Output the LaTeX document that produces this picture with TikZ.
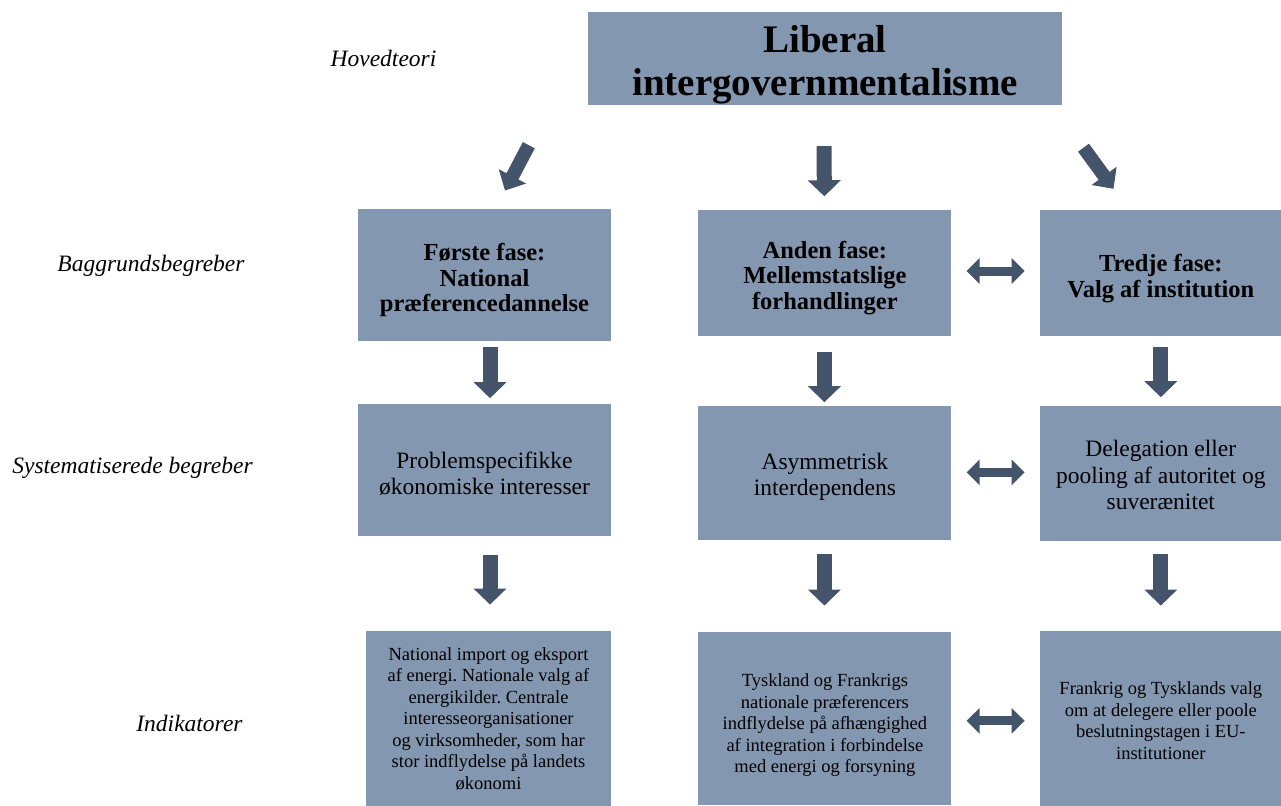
\documentclass[tikz,border=0pt]{standalone}
\usepackage{fontspec}
\setmainfont{Liberation Serif}
\usepackage{tikz}
\usetikzlibrary{positioning, arrows.meta}
\definecolor{boxblue}{HTML}{8497B0}
\definecolor{arrowblue}{HTML}{44546A}
\frenchspacing

\begin{document}
\begin{tikzpicture}[x=1pt, y=-1pt, node distance=87pt,
  box node/.style={rectangle, fill=boxblue, inner sep=0pt, align=center, text=black, text depth=0pt},
  head node/.style={box node, minimum width=253pt, font=\fontsize{24.5}{25.5}\selectfont\bfseries},
  plain node/.style={box node, minimum width=253pt, font=\fontsize{23.5}{26.5}\selectfont},
  small node/.style={box node, minimum width=253pt, font=\fontsize{18.5}{21.5}\selectfont},
  level label/.style={font=\fontsize{23.5}{26}\selectfont\itshape},
  down arrow/.style={draw=arrowblue, line width=15pt, -{Triangle[width=32pt,length=16pt]}},
  slant arrow/.style={draw=arrowblue, line width=13.5pt, -{Triangle[width=30pt,length=16pt]}},
  both arrow/.style={draw=arrowblue, line width=9pt, {Triangle[width=25pt,length=13pt]}-{Triangle[width=25pt,length=13pt]}}]

\useasboundingbox (0,0) rectangle (1281,805);

% levels on the left
\node[level label] (lvl0) at (383.5,58) {Hovedteori};
\node[level label] (lvl1) at (151,266) {Baggrundsbegreber};
\node[level label] (lvl2) at (132.5,468) {Systematiserede begreber};
\node[level label] (lvl3) at (189.5,723) {Indikatorer};

% main theory
\node[box node, minimum width=474pt, minimum height=93pt, text height=73.6pt,
  font=\fontsize{39}{43}\selectfont\bfseries] (top) at (825,58.5) {Liberal\\intergovernmentalisme};

% phases
\node[head node, minimum height=132pt, text height=73pt] (a1) at (484.5,275) {Første fase:\\National\\præferencedannelse};
\node[head node, minimum height=126pt, text height=72.7pt] (b1) [right=87pt of a1, yshift=2pt] {Anden fase:\\Mellemstatslige\\forhandlinger};
\node[head node, minimum height=126pt, minimum width=242pt, text height=48.2pt] (c1) [right=88pt of b1] {Tredje fase:\\Valg af institution};

% systematised concepts
\node[plain node, minimum height=132pt, text height=48.5pt] (a2) [below=63pt of a1] {Problemspecifikke\\økonomiske interesser};
\node[plain node, minimum height=134pt, text height=44.5pt] (b2) [right=87pt of a2, yshift=-3pt] {Asymmetrisk\\interdependens};
\node[plain node, minimum height=135pt, minimum width=242pt, text height=73pt] (c2) [right=88pt of b2] {Delegation eller\\pooling af autoritet og\\suverænitet};

% indicators
\node[small node, minimum height=175pt, minimum width=245pt] (a3) [below=94pt of a2, xshift=4pt]
  {National import og eksport\\af energi. Nationale valg af\\energikilder. Centrale\\interesseorganisationer\\og virksomheder, som har\\stor indflydelse på landets\\økonomi};
\node[small node, minimum height=173pt, text height=108.6pt] (b3) [right=87pt of a3]
  {Tyskland og Frankrigs\\nationale præferencers\\indflydelse på afhængighed\\af integration i forbindelse\\med energi og forsyning};
\node[small node, minimum height=175pt, minimum width=242pt, text height=82pt] (c3) [right=88pt of b3]
  {Frankrig og Tysklands valg\\om at delegere eller poole\\beslutningstagen i EU-\\institutioner};

% arrows from the theory
\draw[slant arrow] ([xshift=-59pt,yshift=-40pt]top.south west) -- ([xshift=20.5pt,yshift=18.3pt]a1.north);
\draw[down arrow] ([xshift=-1pt,yshift=-41pt]top.south) -- ([xshift=-0.5pt,yshift=13.5pt]b1.north);
\draw[slant arrow] ([xshift=21.3pt,yshift=-42.5pt]top.south east) -- ([xshift=-47.3pt,yshift=21pt]c1.north);

% arrows down the columns
\draw[down arrow, shorten <=6pt, shorten >=6pt] ([xshift=5.5pt]a1.south) -- ([xshift=5.5pt]a2.north);
\draw[down arrow, shorten <=18pt, shorten >=26pt] ([xshift=5.5pt]a2.south) -- ([xshift=1.5pt]a3.north);
\draw[down arrow, shorten <=16pt, shorten >=4pt] ([xshift=-0.5pt]b1.south) -- ([xshift=-0.5pt]b2.north);
\draw[down arrow, shorten <=13pt, shorten >=26pt] ([xshift=-0.5pt]b2.south) -- ([xshift=-0.5pt]b3.north);
\draw[down arrow, shorten <=11pt, shorten >=8.5pt] (c1.south) -- (c2.north);
\draw[down arrow, shorten <=12.5pt, shorten >=25pt] (c2.south) -- (c3.north);

% arrows between phase two and three
\draw[both arrow, shorten <=15pt, shorten >=15pt] ([yshift=2pt]b1.east) -- ([yshift=2pt]c1.west);
\draw[both arrow, shorten <=15pt, shorten >=15pt] ([yshift=1pt]b2.east) -- ([yshift=1pt]c2.west);
\draw[both arrow, shorten <=15pt, shorten >=15pt] ([yshift=-2.5pt]b3.east) -- ([yshift=-2.5pt]c3.west);

\end{tikzpicture}
\end{document}
